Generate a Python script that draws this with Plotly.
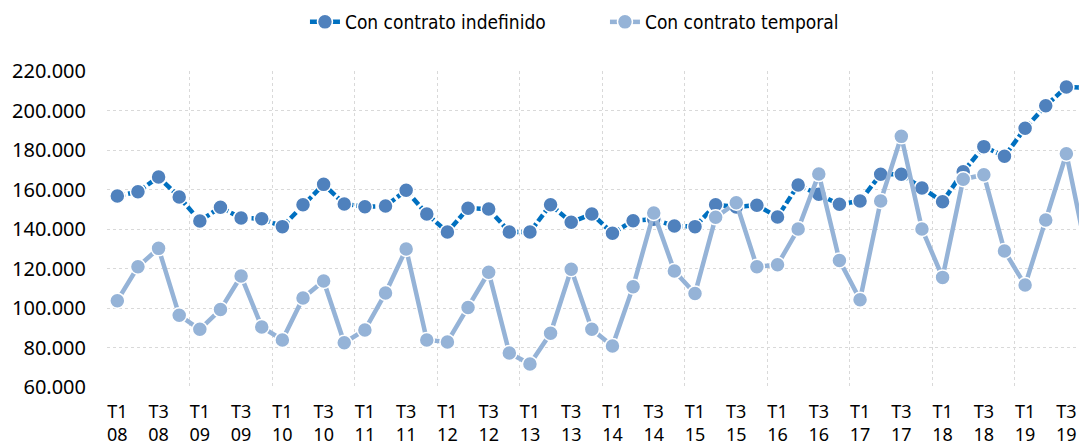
import plotly.graph_objects as go

years = ["08", "09", "10", "11", "12", "13", "14", "15", "16", "17", "18", "19"]
quarters = ["T1", "T2", "T3", "T4"]
categories = [f"{q} {y}" for y in years for q in quarters]

indefinido = [
    156.7, 158.9, 166.3, 156.2, 144.1, 151.0, 145.6, 145.2, 141.2, 152.3, 162.6, 152.7,
    151.3, 151.6, 159.6, 147.6, 138.5, 150.5, 150.1, 138.5, 138.5, 152.3, 143.4, 147.6,
    137.8, 144.2, 144.9, 141.5, 141.2, 152.3, 151.2, 152.0, 146.1, 162.3, 157.6, 152.5,
    154.2, 167.7, 167.7, 160.8, 153.8, 169.0, 181.7, 176.8, 191.0, 202.4, 211.9, 211.5,
]
temporal = [
    103.7, 120.9, 130.2, 96.3, 89.2, 99.2, 116.2, 90.4, 83.8, 105.1, 113.7, 82.4,
    88.9, 107.6, 129.9, 83.8, 82.8, 100.3, 118.1, 77.2, 71.6, 87.2, 119.6, 89.2,
    80.8, 110.8, 148.1, 118.7, 107.3, 145.9, 153.3, 120.9, 121.9, 140.0, 167.8, 124.1,
    104.2, 154.2, 186.9, 140.0, 115.5, 165.2, 167.5, 128.9, 111.6, 144.6, 178.1, 127.2,
]
indefinido = [v * 1000 for v in indefinido]
temporal = [v * 1000 for v in temporal]

x = list(range(len(categories)))
tick_idx = [i for i, c in enumerate(categories) if c.split()[0] in ("T1", "T3")]
tick_text = [categories[i].replace(" ", "<br>") for i in tick_idx]

fig = go.Figure()
fig.add_trace(go.Scatter(
    x=x, y=indefinido, name="Con contrato indefinido", mode="lines+markers",
    line=dict(color="#0070C0", width=4.5, dash="8px,3px"),
    marker=dict(color="#4F81BD", size=15, line=dict(color="white", width=1.5)),
    customdata=categories, hovertemplate="%{customdata}: %{y:,.0f}<extra></extra>",
))
fig.add_trace(go.Scatter(
    x=x, y=temporal, name="Con contrato temporal", mode="lines+markers",
    line=dict(color="#95B3D7", width=4.5),
    marker=dict(color="#95B3D7", size=15, line=dict(color="white", width=1.5)),
    customdata=categories, hovertemplate="%{customdata}: %{y:,.0f}<extra></extra>",
))

fig.update_layout(
    width=1079, height=438,
    margin=dict(l=99, r=0, t=63, b=59),
    paper_bgcolor="white", plot_bgcolor="white",
    separators=",.",
    showlegend=True,
    legend=dict(
        orientation="h", xref="paper", x=0.202, xanchor="left",
        yref="container", y=0.968, yanchor="middle",
        font=dict(family="DejaVu Sans Condensed, Liberation Sans Narrow, sans-serif",
                  size=19, color="#000000"),
        entrywidth=255, tracegroupgap=0,
    ),
    xaxis=dict(
        range=[-0.5, 47.0],
        tickmode="array", tickvals=tick_idx, ticktext=tick_text,
        showgrid=False, zeroline=False, showline=False, ticks="",
        ticklabelstandoff=12,
        tickfont=dict(family="Noto Sans, sans-serif", size=18, color="#000000"),
        minor=dict(tick0=-0.5, dtick=4, showgrid=True, gridcolor="#D9D9D9",
                   griddash="3px,3px", gridwidth=1),
    ),
    yaxis=dict(
        range=[60000, 220000], dtick=20000, tickformat=",.0f",
        showgrid=True, gridcolor="#D9D9D9", griddash="3px,3px", gridwidth=1,
        zeroline=False, showline=False, ticks="",
        ticklabelstandoff=20,
        tickfont=dict(family="Noto Sans, sans-serif", size=20, color="#000000"),
    ),
)

fig.write_html("out.html")
